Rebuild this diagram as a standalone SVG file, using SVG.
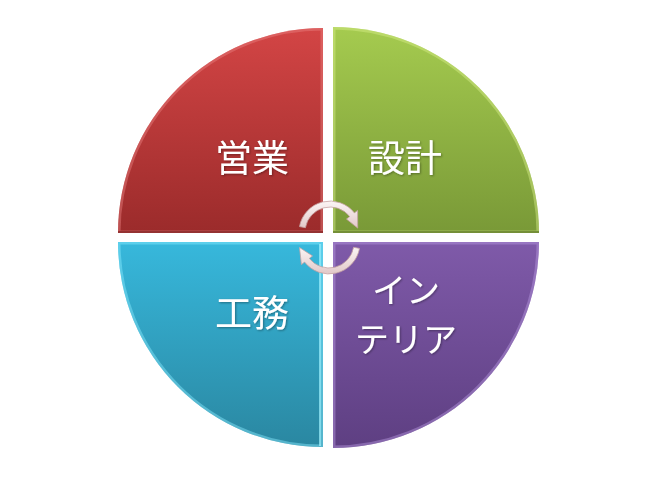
<svg xmlns="http://www.w3.org/2000/svg" width="659" height="477" viewBox="0 0 659 477">
<defs>
<linearGradient id="gRed" x1="0" y1="0" x2="0" y2="1"><stop offset="0" stop-color="#d34545"/><stop offset="1" stop-color="#9b2b2b"/></linearGradient>
<linearGradient id="gGreen" x1="0" y1="0" x2="0" y2="1"><stop offset="0" stop-color="#a5cb4f"/><stop offset="1" stop-color="#799937"/></linearGradient>
<linearGradient id="gCyan" x1="0" y1="0" x2="0" y2="1"><stop offset="0" stop-color="#37b8dc"/><stop offset="1" stop-color="#2a87a1"/></linearGradient>
<linearGradient id="gPurple" x1="0" y1="0" x2="0" y2="1"><stop offset="0" stop-color="#7f5aa9"/><stop offset="1" stop-color="#5e3f82"/></linearGradient>
<linearGradient id="gArrow" x1="0" y1="0" x2="0" y2="1"><stop offset="0" stop-color="#fbf5f5"/><stop offset="1" stop-color="#e2c8c8"/></linearGradient>
<clipPath id="cRed"><path d="M323,233 L118,233 A205,205 0 0 1 323,28 Z"/></clipPath>
<clipPath id="cGreen"><path d="M333,233 L333,27 A206,206 0 0 1 539,233 Z"/></clipPath>
<clipPath id="cCyan"><path d="M323,242 L323,447 A205,205 0 0 1 118,242 Z"/></clipPath>
<clipPath id="cPurple"><path d="M333,242 L539,242 A206,206 0 0 1 333,448 Z"/></clipPath>
<filter id="ts" x="-20%" y="-20%" width="140%" height="140%"><feDropShadow dx="1" dy="1" stdDeviation="1" flood-color="#000" flood-opacity="0.35"/></filter>
</defs>
<style>
.lbl{font-family:"Noto Sans CJK JP","Noto Sans",sans-serif;font-size:37px;fill:#ffffff;text-anchor:middle;filter:url(#ts)}
.lbl2{font-size:34px}
.bev{fill:none;stroke-width:5;opacity:0.45}
.arrow{fill:url(#gArrow);stroke:#c7a3a3;stroke-width:0.8;stroke-linejoin:round}
</style>
<rect width="659" height="477" fill="#ffffff"/>
<g id="node-eigyo">
<path d="M323,233 L118,233 A205,205 0 0 1 323,28 Z" fill="url(#gRed)"/>
<path d="M323,233 L118,233 A205,205 0 0 1 323,28 Z" class="bev" stroke="#e88080" clip-path="url(#cRed)"/>
<line x1="118" y1="232" x2="323" y2="232" stroke="#7a1e1e" stroke-width="2" opacity="0.6"/>
<text class="lbl" x="252" y="172">営業</text>
</g>
<g id="node-sekkei">
<path d="M333,233 L333,27 A206,206 0 0 1 539,233 Z" fill="url(#gGreen)"/>
<path d="M333,233 L333,27 A206,206 0 0 1 539,233 Z" class="bev" stroke="#d6ee8a" clip-path="url(#cGreen)"/>
<line x1="333" y1="232" x2="539" y2="232" stroke="#56701f" stroke-width="2" opacity="0.6"/>
<text class="lbl" x="405" y="172">設計</text>
</g>
<g id="node-koumu">
<path d="M323,242 L323,447 A205,205 0 0 1 118,242 Z" fill="url(#gCyan)"/>
<path d="M323,242 L323,447 A205,205 0 0 1 118,242 Z" class="bev" stroke="#8aeaff" clip-path="url(#cCyan)"/>
<line x1="320" y1="244" x2="320" y2="446" stroke="#9ff2ff" stroke-width="2" opacity="0.7"/>
<text class="lbl" x="252" y="327">工務</text>
</g>
<g id="node-interior">
<path d="M333,242 L539,242 A206,206 0 0 1 333,448 Z" fill="url(#gPurple)"/>
<path d="M333,242 L539,242 A206,206 0 0 1 333,448 Z" class="bev" stroke="#b99ae0" clip-path="url(#cPurple)"/>
<text class="lbl lbl2" x="406" y="303"><tspan x="406" y="303">イン</tspan><tspan x="406" y="352">テリア</tspan></text>
</g>
<g id="connectors">
<path class="arrow" d="M299.5,226.6 A31,31 0 0 1 354.4,212.9 L357.6,210.4 L357.7,228.1 L346.5,219.1 L349.7,216.6 A25,25 0 0 0 305.4,227.7 Z"/>
<path class="arrow" d="M359.5,248.4 A31,31 0 0 1 304.6,262.1 L301.4,264.6 L299.5,247.5 L312.5,255.9 L309.3,258.4 A25,25 0 0 0 353.6,247.3 Z"/>
</g>
</svg>
